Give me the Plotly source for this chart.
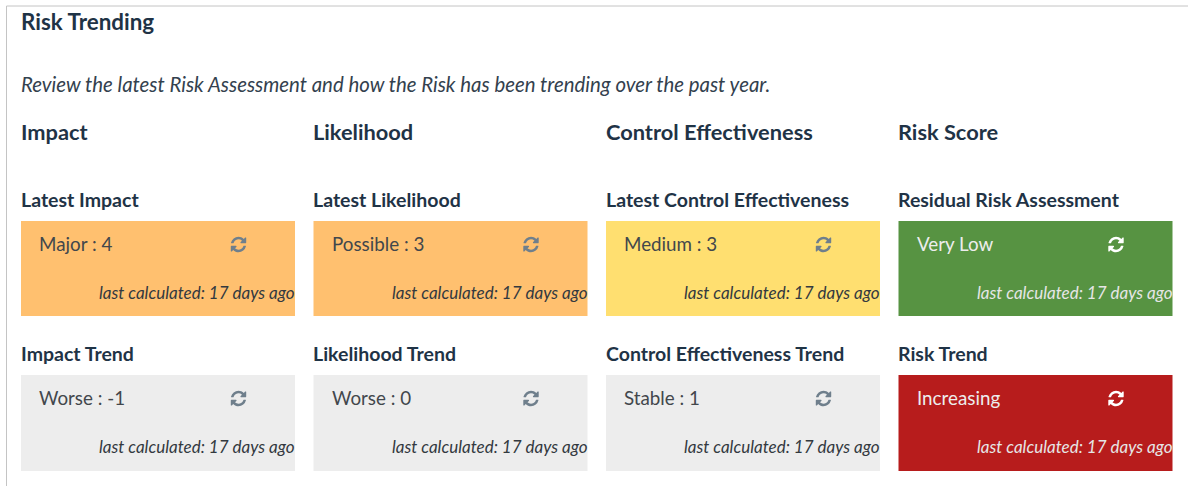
import re
import plotly.graph_objects as go

# ---------- content ----------
title = "Risk Trending"
subtitle = "Review the latest Risk Assessment and how the Risk has been trending over the past year."
columns = ["Impact", "Likelihood", "Control Effectiveness", "Risk Score"]
row1_labels = ["Latest Impact", "Latest Likelihood", "Latest Control Effectiveness", "Residual Risk Assessment"]
row1_values = ["Major : 4", "Possible : 3", "Medium : 3", "Very Low"]
row1_colors = ["#FFC06F", "#FFC06F", "#FFDF70", "#579342"]
row2_labels = ["Impact Trend", "Likelihood Trend", "Control Effectiveness Trend", "Risk Trend"]
row2_values = ["Worse : -1", "Worse : 0", "Stable : 1", "Increasing"]
row2_colors = ["#EDEDED", "#EDEDED", "#EDEDED", "#B71C1C"]
footnote = "last calculated: 17 days ago"

# ---------- layout constants ----------
FONT = "Lato"
DARK = "#1F3346"
COL_X = [21, 313.5, 606, 898.5]
CARD_W = 274
ROWS = [(221, 316), (375, 471)]

ICON = ("M1639 1056q0 5-1 7-64 268-268 434.5t-478 166.5q-146 0-282.5-55t-243.5-157l-129 129q-19 19-45 19t-45-19-19-45"
        "v-448q0-26 19-45t45-19h448q26 0 45 19t19 45-19 45l-137 137q71 66 161 102t187 36q134 0 250-65t186-179q11-17 53-117"
        " 8-23 30-23h192q13 0 22.5 9.5t9.5 22.5zm25-800v448q0 26-19 45t-45 19h-448q-26 0-45-19t-19-45 19-45l138-138"
        "q-148-137-349-137-134 0-250 65t-186 179q-11 17-53 117-8 23-30 23h-199q-13 0-22.5-9.5t-9.5-22.5v-7"
        "q65-268 270-434.5t480-166.5q146 0 284 55.5t245 156.5l130-129q19-19 45-19t45 19 19 45z")


def icon_path(cx, cy, size):
    """Turn the relative icon outline into absolute axis coordinates."""
    s = size / 1792
    X = lambda v: cx + (v - 896) * s
    Y = lambda v: cy + (v - 896) * s
    toks = re.findall(r"[A-Za-z]|-?\d*\.?\d+", ICON)
    i, x, y, sx, sy, cmd, out = 0, 0.0, 0.0, 0.0, 0.0, "", []
    ctrl = None

    def num():
        nonlocal i
        v = float(toks[i])
        i += 1
        return v

    while i < len(toks):
        if toks[i].isalpha():
            cmd = toks[i]
            i += 1
            if cmd == "z":
                out.append("Z")
                x, y = sx, sy
                ctrl = None
                continue
        if cmd == "M" or cmd == "m":
            a, b = num(), num()
            x, y = (a, b) if cmd == "M" else (x + a, y + b)
            sx, sy = x, y
            out.append(f"M{X(x):.2f},{Y(y):.2f}")
            cmd = "l"
            ctrl = None
        elif cmd == "l":
            x += num()
            y += num()
            out.append(f"L{X(x):.2f},{Y(y):.2f}")
            ctrl = None
        elif cmd == "h":
            x += num()
            out.append(f"L{X(x):.2f},{Y(y):.2f}")
            ctrl = None
        elif cmd == "v":
            y += num()
            out.append(f"L{X(x):.2f},{Y(y):.2f}")
            ctrl = None
        elif cmd == "q":
            c1, c2, a, b = num(), num(), num(), num()
            ctrl = (x + c1, y + c2)
            x, y = x + a, y + b
            out.append(f"Q{X(ctrl[0]):.2f},{Y(ctrl[1]):.2f} {X(x):.2f},{Y(y):.2f}")
        elif cmd == "t":
            a, b = num(), num()
            ctrl = (2 * x - ctrl[0], 2 * y - ctrl[1]) if ctrl else (x, y)
            x, y = x + a, y + b
            out.append(f"Q{X(ctrl[0]):.2f},{Y(ctrl[1]):.2f} {X(x):.2f},{Y(y):.2f}")
    return " ".join(out)


shapes, ann = [], []


def text(x, y, s, size, color, bold=False, italic=False, anchor="left"):
    ann.append(dict(x=x, y=y, text=s, showarrow=False, xanchor=anchor, yanchor="middle",
                    xref="x", yref="y", align=anchor, borderpad=0,
                    font=dict(family=FONT, size=size, color=color,
                              weight=700 if bold else 400,
                              style="italic" if italic else "normal")))


# panel border
shapes.append(dict(type="line", x0=6.5, x1=1188, y0=6, y1=6, line=dict(color="#C4C4C4", width=1)))
shapes.append(dict(type="line", x0=6.5, x1=6.5, y0=6, y1=486, line=dict(color="#C4C4C4", width=1)))

text(19.8, 21.2, title, 22.4, DARK, bold=True)
text(19.8, 83.5, subtitle, 20.4, "#33414E", italic=True)

for cx, col in zip(COL_X, columns):
    text(cx - 1.2, 131.8, col, 21.8, DARK, bold=True)

for (top, bot), labels, values, colors in ((ROWS[0], row1_labels, row1_values, row1_colors),
                                           (ROWS[1], row2_labels, row2_values, row2_colors)):
    for cx, lab, val, colr in zip(COL_X, labels, values, colors):
        is_dark = colr in ("#579342", "#B71C1C")
        shapes.append(dict(type="rect", x0=cx, x1=cx + CARD_W, y0=top, y1=bot,
                           fillcolor=colr, line=dict(width=0), layer="below"))
        text(cx - 1.2, top - 22, lab, 19.5, DARK, bold=True)
        text(cx + 17.2, top + 22.2, val, 18.8, "#EDEDED" if is_dark else "#42474C")
        text(cx + CARD_W + 1.2, top + 71.2, footnote, 17, "#E6E6E6" if is_dark else "#33393F",
             italic=True, anchor="right")
        shapes.append(dict(type="path", path=icon_path(cx + 217.5, top + 23.5, 18),
                           fillcolor="#FFFFFF" if is_dark else "#6F7F8C", line=dict(width=0)))

fig = go.Figure()
fig.update_layout(
    width=1188, height=486, autosize=False,
    margin=dict(l=0, r=0, t=0, b=0),
    paper_bgcolor="white", plot_bgcolor="white",
    xaxis=dict(range=[0, 1188], visible=False, fixedrange=True),
    yaxis=dict(range=[486, 0], visible=False, fixedrange=True),
    shapes=shapes, annotations=ann, showlegend=False,
)
fig.write_html("out.html", config=dict(displayModeBar=False),
               post_script="document.body.style.margin='0';document.documentElement.style.overflow='hidden';")
